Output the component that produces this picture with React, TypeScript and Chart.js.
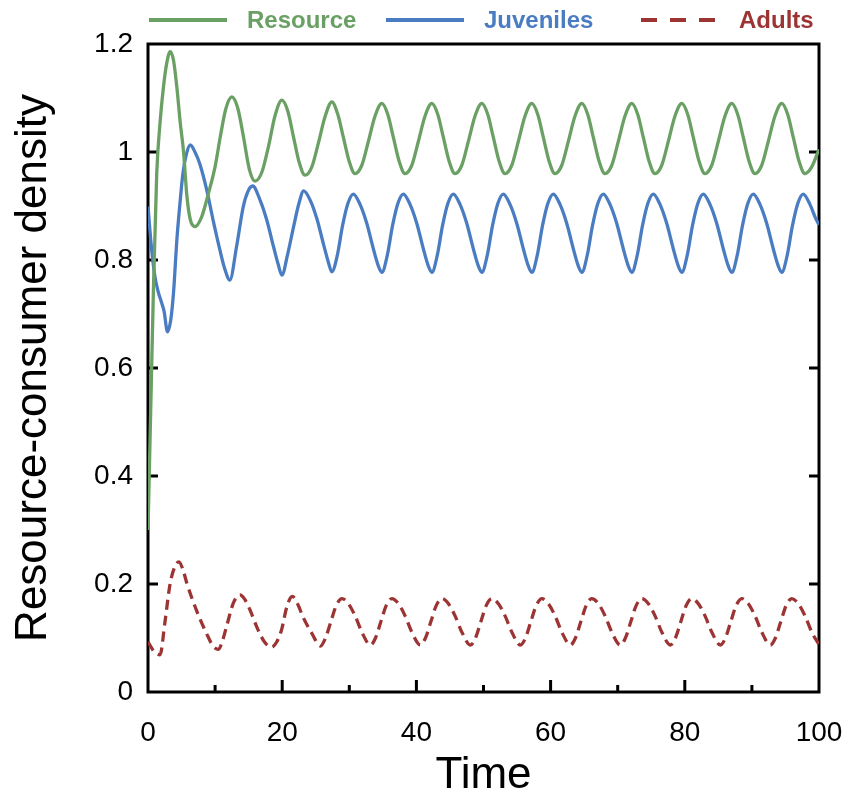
import React, { useEffect, useRef } from 'react';
import { Chart, registerables } from 'chart.js';

Chart.register(...registerables);

// ---------- data ----------
const resourceT = [
  0, 0.4, 0.8, 1.3, 1.8, 2.3, 2.8, 3.3, 3.8, 4.3, 4.8, 5.3, 5.8, 6.3, 7.0, 8.0, 9.0, 10.0, 10.8, 11.6, 12.5,
  13.4, 14.2, 15.1, 15.95, 16.95, 17.95, 18.95, 19.95,
  20.85, 21.65, 22.55, 23.4, 24.4, 25.4, 26.4, 27.4,
  28.3, 29.1, 30.0, 30.85, 31.85, 32.85, 33.85, 34.85,
  35.75, 36.55, 37.45, 38.3, 39.3, 40.3, 41.3, 42.3,
  43.2, 44.0, 44.9, 45.75, 46.75, 47.75, 48.75, 49.75,
  50.65, 51.45, 52.35, 53.2, 54.2, 55.2, 56.2, 57.2,
  58.1, 58.9, 59.8, 60.65, 61.65, 62.65, 63.65, 64.65,
  65.55, 66.35, 67.25, 68.1, 69.1, 70.1, 71.1, 72.1,
  73.0, 73.8, 74.7, 75.55, 76.55, 77.55, 78.55, 79.55,
  80.45, 81.25, 82.15, 83.0, 84.0, 85.0, 86.0, 87.0,
  87.9, 88.7, 89.6, 90.45, 91.45, 92.45, 93.45, 94.45,
  95.35, 96.15, 97.05, 97.9, 98.9, 100,
];
const resourceV = [
  0.30, 0.52, 0.74, 0.96, 1.055, 1.12, 1.165, 1.186, 1.17, 1.12, 1.055, 1.0, 0.918, 0.875, 0.862, 0.88, 0.923, 0.973, 1.03, 1.08, 1.102,
  1.08, 1.03, 0.968, 0.946, 0.962, 1.01, 1.068, 1.096,
  1.075, 1.03, 0.98, 0.957, 0.972, 1.017, 1.066, 1.093,
  1.069, 1.028, 0.982, 0.960, 0.975, 1.020, 1.067, 1.090,
  1.069, 1.028, 0.982, 0.960, 0.975, 1.020, 1.067, 1.090,
  1.069, 1.028, 0.982, 0.960, 0.975, 1.020, 1.067, 1.090,
  1.069, 1.028, 0.982, 0.960, 0.975, 1.020, 1.067, 1.090,
  1.069, 1.028, 0.982, 0.960, 0.975, 1.020, 1.067, 1.090,
  1.069, 1.028, 0.982, 0.960, 0.975, 1.020, 1.067, 1.090,
  1.069, 1.028, 0.982, 0.960, 0.975, 1.020, 1.067, 1.090,
  1.069, 1.028, 0.982, 0.960, 0.975, 1.020, 1.067, 1.090,
  1.069, 1.028, 0.982, 0.960, 0.975, 1.020, 1.067, 1.090,
  1.069, 1.028, 0.982, 0.960, 0.972, 1.005,
];

const juvenileT = [
  0, 0.5, 1.0, 1.5, 2.0, 2.4, 2.9, 3.4, 3.8, 4.3, 4.8, 5.2, 5.7, 6.3, 7.0, 7.75, 8.75, 9.7, 10.5, 11.4, 12.2,
  13.2, 14.2, 14.9, 15.6, 16.7, 17.7, 18.7, 19.4, 19.95,
  20.8, 21.7, 22.5, 23.2, 24.2, 25.2, 26.2, 26.9, 27.4,
  28.2, 29.0, 29.8, 30.6, 31.6, 32.6, 33.6, 34.3, 34.85,
  35.65, 36.45, 37.25, 38.05, 39.05, 40.05, 41.05, 41.75, 42.3,
  43.1, 43.9, 44.7, 45.5, 46.5, 47.5, 48.5, 49.2, 49.75,
  50.55, 51.35, 52.15, 52.95, 53.95, 54.95, 55.95, 56.65, 57.2,
  58.0, 58.8, 59.6, 60.4, 61.4, 62.4, 63.4, 64.1, 64.65,
  65.45, 66.25, 67.05, 67.85, 68.85, 69.85, 70.85, 71.55, 72.1,
  72.9, 73.7, 74.5, 75.3, 76.3, 77.3, 78.3, 79.0, 79.55,
  80.35, 81.15, 81.95, 82.75, 83.75, 84.75, 85.75, 86.45, 87.0,
  87.8, 88.6, 89.4, 90.2, 91.2, 92.2, 93.2, 93.9, 94.45,
  95.25, 96.05, 96.85, 97.65, 98.65, 99.4, 100,
];
const juvenileV = [
  0.899, 0.825, 0.772, 0.742, 0.722, 0.705, 0.667, 0.69, 0.739, 0.837, 0.91, 0.96, 0.995, 1.013, 1.0, 0.977, 0.93, 0.874, 0.83, 0.785, 0.763,
  0.825, 0.899, 0.927, 0.937, 0.911, 0.874, 0.825, 0.792, 0.772,
  0.81, 0.862, 0.905, 0.928, 0.91, 0.875, 0.827, 0.795, 0.778,
  0.808, 0.864, 0.905, 0.922, 0.903, 0.868, 0.820, 0.790, 0.777,
  0.808, 0.864, 0.905, 0.922, 0.903, 0.868, 0.820, 0.790, 0.777,
  0.808, 0.864, 0.905, 0.922, 0.903, 0.868, 0.820, 0.790, 0.777,
  0.808, 0.864, 0.905, 0.922, 0.903, 0.868, 0.820, 0.790, 0.777,
  0.808, 0.864, 0.905, 0.922, 0.903, 0.868, 0.820, 0.790, 0.777,
  0.808, 0.864, 0.905, 0.922, 0.903, 0.868, 0.820, 0.790, 0.777,
  0.808, 0.864, 0.905, 0.922, 0.903, 0.868, 0.820, 0.790, 0.777,
  0.808, 0.864, 0.905, 0.922, 0.903, 0.868, 0.820, 0.790, 0.777,
  0.808, 0.864, 0.905, 0.922, 0.903, 0.868, 0.820, 0.790, 0.777,
  0.808, 0.864, 0.905, 0.922, 0.903, 0.880, 0.865,
];

const adultT = [
  0, 0.9, 1.8, 2.5, 3.3, 4.0, 4.6, 5.2, 5.8, 7.2, 8.7, 9.7, 10.5, 11.1, 11.7, 12.7, 13.7, 14.4, 15.2, 16.4, 17.4, 18.4,
  19.2, 19.9, 20.7, 21.5, 22.3, 23.1, 24.4, 25.7,
  26.45, 27.25, 28.05, 28.9, 29.9, 30.9, 31.9, 33.15,
  33.9, 34.7, 35.5, 36.35, 37.35, 38.35, 39.35, 40.6,
  41.35, 42.15, 42.95, 43.8, 44.8, 45.8, 46.8, 48.05,
  48.8, 49.6, 50.4, 51.25, 52.25, 53.25, 54.25, 55.5,
  56.25, 57.05, 57.85, 58.7, 59.7, 60.7, 61.7, 62.95,
  63.7, 64.5, 65.3, 66.15, 67.15, 68.15, 69.15, 70.4,
  71.15, 71.95, 72.75, 73.6, 74.6, 75.6, 76.6, 77.85,
  78.6, 79.4, 80.2, 81.05, 82.05, 83.05, 84.05, 85.3,
  86.05, 86.85, 87.65, 88.5, 89.5, 90.5, 91.5, 92.75,
  93.5, 94.3, 95.1, 95.95, 96.95, 97.95, 98.95, 100,
];
const adultV = [
  0.093, 0.075, 0.069, 0.127, 0.201, 0.232, 0.241, 0.227, 0.201, 0.152, 0.109, 0.085, 0.079, 0.095, 0.121, 0.164, 0.180, 0.172, 0.152, 0.115, 0.092, 0.083,
  0.093, 0.115, 0.158, 0.177, 0.163, 0.139, 0.109, 0.085,
  0.100, 0.130, 0.160, 0.173, 0.163, 0.140, 0.110, 0.087,
  0.100, 0.130, 0.160, 0.173, 0.163, 0.140, 0.110, 0.087,
  0.100, 0.130, 0.160, 0.173, 0.163, 0.140, 0.110, 0.087,
  0.100, 0.130, 0.160, 0.173, 0.163, 0.140, 0.110, 0.087,
  0.100, 0.130, 0.160, 0.173, 0.163, 0.140, 0.110, 0.087,
  0.100, 0.130, 0.160, 0.173, 0.163, 0.140, 0.110, 0.087,
  0.100, 0.130, 0.160, 0.173, 0.163, 0.140, 0.110, 0.087,
  0.100, 0.130, 0.160, 0.173, 0.163, 0.140, 0.110, 0.087,
  0.100, 0.130, 0.160, 0.173, 0.163, 0.140, 0.110, 0.087,
  0.100, 0.130, 0.160, 0.173, 0.163, 0.140, 0.110, 0.088,
];

const seriesNames = ['Resource', 'Juveniles', 'Adults'];
const seriesColors = ['#6aa064', '#4a7cc2', '#9d3434'];
const yTickLabels = ['0', '0.2', '0.4', '0.6', '0.8', '1', '1.2'];
const yInnerTicks = [0.2, 0.4, 0.6, 0.8, 1.0];
const xTickLabels = ['0', '20', '40', '60', '80', '100'];
const xMajorTicks = [20, 40, 60, 80];
const xMinorTicks = [10, 30, 50, 70, 90];
const xTitle = 'Time';
const yTitle = 'Resource-consumer density';

const FONT = "'Liberation Sans', Arial, sans-serif";

const pts = (t: number[], v: number[]) => t.map((x, i) => ({ x, y: v[i] }));

const framePlugin = {
  id: 'frameTicks',
  beforeDatasetsDraw(chart: any) {
    const { ctx, chartArea: a, scales } = chart;
    const xs = scales.x;
    const ys = scales.y;
    ctx.save();
    ctx.strokeStyle = '#000';
    ctx.lineWidth = 3;
    ctx.lineCap = 'butt';
    ctx.strokeRect(a.left, a.top, a.right - a.left, a.bottom - a.top);
    ctx.beginPath();
    yInnerTicks.forEach((v) => {
      const py = ys.getPixelForValue(v);
      ctx.moveTo(a.left, py);
      ctx.lineTo(a.left + 10, py);
      ctx.moveTo(a.right, py);
      ctx.lineTo(a.right - 10, py);
    });
    xMajorTicks.forEach((v) => {
      const px = xs.getPixelForValue(v);
      ctx.moveTo(px, a.bottom);
      ctx.lineTo(px, a.bottom - 12);
    });
    xMinorTicks.forEach((v) => {
      const px = xs.getPixelForValue(v);
      ctx.moveTo(px, a.bottom);
      ctx.lineTo(px, a.bottom - 7);
    });
    ctx.stroke();
    ctx.restore();
  },
};

const legendPlugin = {
  id: 'topLegend',
  afterDraw(chart: any) {
    const { ctx } = chart;
    const lineStarts = [149, 386, 641];
    const lineLen = 78;
    const y = 20;
    ctx.save();
    ctx.font = `bold 24px ${FONT}`;
    ctx.textBaseline = 'middle';
    ctx.textAlign = 'left';
    seriesNames.forEach((name, i) => {
      const x0 = lineStarts[i];
      ctx.strokeStyle = seriesColors[i];
      ctx.lineWidth = 4;
      ctx.lineCap = 'butt';
      ctx.setLineDash(i === 2 ? [16, 13] : []);
      ctx.beginPath();
      ctx.moveTo(x0, y);
      ctx.lineTo(x0 + lineLen, y);
      ctx.stroke();
      ctx.setLineDash([]);
      ctx.fillStyle = seriesColors[i];
      ctx.fillText(name, x0 + lineLen + 20, y + 1);
    });
    ctx.restore();
  },
};

export default function App() {
  const ref = useRef<HTMLCanvasElement | null>(null);

  useEffect(() => {
    if (!ref.current) return;
    const chart = new Chart(ref.current, {
      type: 'line',
      data: {
        datasets: [
          {
            label: seriesNames[0],
            data: pts(resourceT, resourceV),
            borderColor: seriesColors[0],
            borderWidth: 3.3,
          },
          {
            label: seriesNames[1],
            data: pts(juvenileT, juvenileV),
            borderColor: seriesColors[1],
            borderWidth: 3.3,
          },
          {
            label: seriesNames[2],
            data: pts(adultT, adultV),
            borderColor: seriesColors[2],
            borderWidth: 3.3,
            borderDash: [10, 6],
          },
        ],
      },
      options: {
        responsive: false,
        animation: false,
        events: [],
        layout: { padding: { top: 44, right: 29, left: 0, bottom: 0 } },
        elements: {
          point: { radius: 0 },
          line: { cubicInterpolationMode: 'monotone', fill: false, borderCapStyle: 'butt', borderJoinStyle: 'round' },
        },
        plugins: { legend: { display: false }, tooltip: { enabled: false } },
        scales: {
          x: {
            type: 'linear',
            min: 0,
            max: 100,
            afterFit: (s: any) => { s.height = 106; },
            grid: {
              display: true,
              drawOnChartArea: false,
              drawTicks: true,
              tickLength: 22,
              color: 'rgba(0,0,0,0)',
            },
            border: { display: false },
            ticks: {
              stepSize: 20,
              padding: 2,
              color: '#000',
              maxRotation: 0,
              autoSkip: false,
              font: { family: FONT, size: 28 },
              callback: (_v: any, i: number) => xTickLabels[i],
            },
            title: {
              display: true,
              text: xTitle,
              color: '#000',
              font: { family: FONT, size: 44, lineHeight: 1 },
              padding: { top: 0, bottom: 0 },
            },
          },
          y: {
            type: 'linear',
            min: 0,
            max: 1.2,
            afterFit: (s: any) => { s.width = 148; },
            grid: { display: false, drawTicks: false },
            border: { display: false },
            ticks: {
              stepSize: 0.2,
              padding: 15,
              color: '#000',
              font: { family: FONT, size: 28 },
              callback: (_v: any, i: number) => yTickLabels[i],
            },
            title: {
              display: true,
              text: yTitle,
              color: '#000',
              font: { family: FONT, size: 44, lineHeight: 1 },
              padding: { top: 12, bottom: 0 },
            },
          },
        },
      } as any,
      plugins: [framePlugin, legendPlugin],
    });
    return () => chart.destroy();
  }, []);

  return (
    <div style={{ position: 'absolute', left: 0, top: 0, width: 848, height: 798, background: '#fff' }}>
      <canvas ref={ref} width={848} height={798} style={{ display: 'block', width: 848, height: 798 }} />
    </div>
  );
}
